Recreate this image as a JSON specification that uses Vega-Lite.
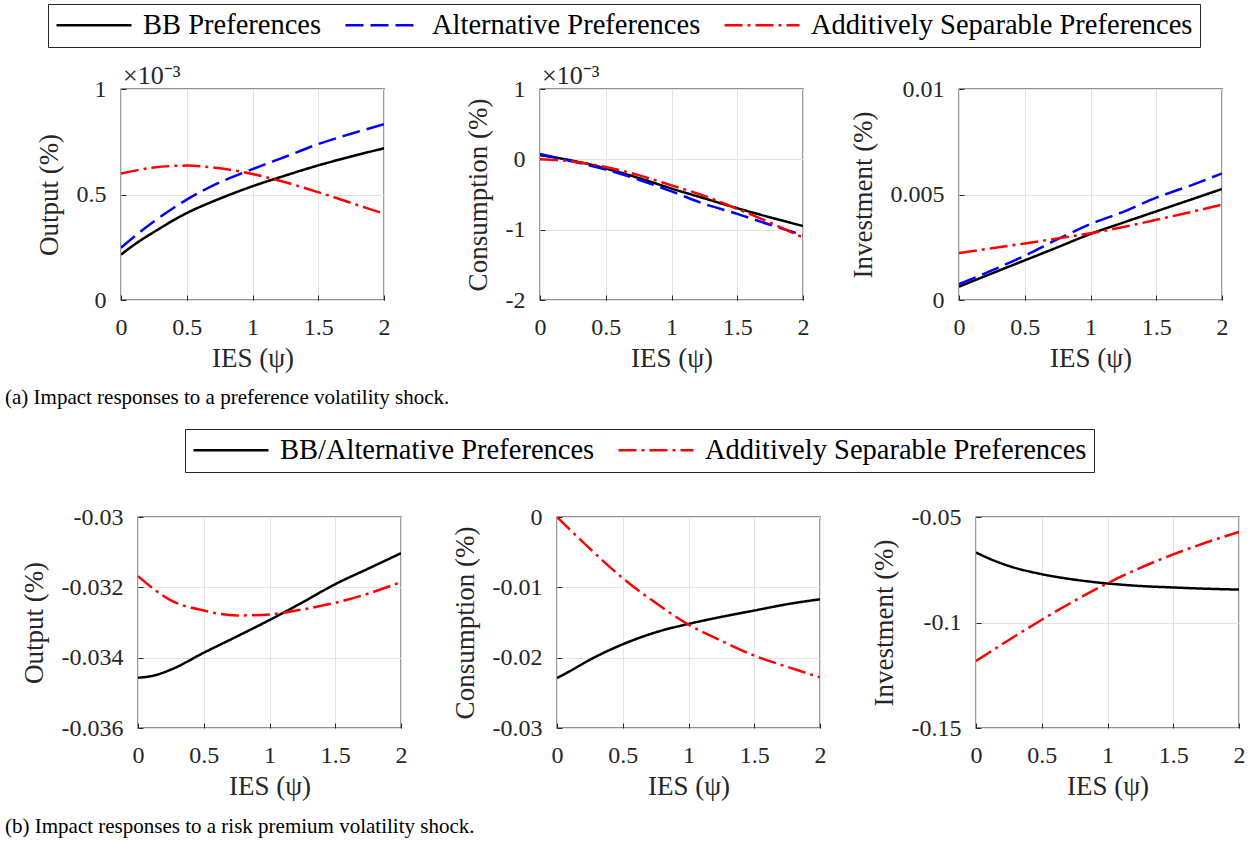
{
  "$schema": "https://vega.github.io/schema/vega-lite/v6.json",
  "padding": {"left": 5, "top": 3, "right": 5, "bottom": 5},
  "background": "white",
  "config": {
    "font": "Liberation Serif",
    "view": {"stroke": "#262626", "strokeWidth": 1.3},
    "legend": {"labelFont": "Liberation Serif", "titleFont": "Liberation Serif"},
    "axis": {
      "labelFont": "Liberation Serif", "labelFontSize": 24, "labelColor": "#262626",
      "titleFont": "Liberation Serif", "titleFontSize": 27, "titleFontWeight": "normal", "titleColor": "#262626",
      "grid": true, "gridColor": "#e3e3e3", "gridWidth": 1, "domain": false,
      "ticks": true, "tickSize": -5, "tickColor": "#262626", "tickWidth": 1,
      "labelFlush": false, "labelOverlap": false
    },
    "axisX": {"labelPadding": 20, "titlePadding": 6},
    "axisY": {"labelPadding": 20, "titlePadding": 13}
  },
  "datasets": {
    "p1": [
      {"ies": 0, "series": "BB Preferences", "value": 0.000215},
      {"ies": 0.1, "series": "BB Preferences", "value": 0.000262},
      {"ies": 0.25, "series": "BB Preferences", "value": 0.000322},
      {"ies": 0.5, "series": "BB Preferences", "value": 0.000412},
      {"ies": 0.75, "series": "BB Preferences", "value": 0.00048},
      {"ies": 1, "series": "BB Preferences", "value": 0.000539},
      {"ies": 1.25, "series": "BB Preferences", "value": 0.00059},
      {"ies": 1.5, "series": "BB Preferences", "value": 0.000638},
      {"ies": 1.75, "series": "BB Preferences", "value": 0.00068},
      {"ies": 2, "series": "BB Preferences", "value": 0.000719},
      {"ies": 0, "series": "Alternative Preferences", "value": 0.000248},
      {"ies": 0.1, "series": "Alternative Preferences", "value": 0.0003},
      {"ies": 0.25, "series": "Alternative Preferences", "value": 0.000372},
      {"ies": 0.5, "series": "Alternative Preferences", "value": 0.000476},
      {"ies": 0.75, "series": "Alternative Preferences", "value": 0.000557},
      {"ies": 1, "series": "Alternative Preferences", "value": 0.00062},
      {"ies": 1.25, "series": "Alternative Preferences", "value": 0.000679},
      {"ies": 1.5, "series": "Alternative Preferences", "value": 0.000739},
      {"ies": 1.75, "series": "Alternative Preferences", "value": 0.000788},
      {"ies": 2, "series": "Alternative Preferences", "value": 0.000833},
      {"ies": 0, "series": "Additively Separable Preferences", "value": 0.000599},
      {"ies": 0.25, "series": "Additively Separable Preferences", "value": 0.000628},
      {"ies": 0.5, "series": "Additively Separable Preferences", "value": 0.000637},
      {"ies": 0.75, "series": "Additively Separable Preferences", "value": 0.000624},
      {"ies": 1, "series": "Additively Separable Preferences", "value": 0.000597},
      {"ies": 1.25, "series": "Additively Separable Preferences", "value": 0.000558},
      {"ies": 1.5, "series": "Additively Separable Preferences", "value": 0.000511},
      {"ies": 1.75, "series": "Additively Separable Preferences", "value": 0.00046},
      {"ies": 2, "series": "Additively Separable Preferences", "value": 0.000409}
    ],
    "p2": [
      {"ies": 0, "series": "BB Preferences", "value": 0.00006},
      {"ies": 0.25, "series": "BB Preferences", "value": -0.00002},
      {"ies": 0.5, "series": "BB Preferences", "value": -0.00013},
      {"ies": 0.75, "series": "BB Preferences", "value": -0.000265},
      {"ies": 1, "series": "BB Preferences", "value": -0.000415},
      {"ies": 1.25, "series": "BB Preferences", "value": -0.000555},
      {"ies": 1.5, "series": "BB Preferences", "value": -0.000695},
      {"ies": 1.75, "series": "BB Preferences", "value": -0.000825},
      {"ies": 2, "series": "BB Preferences", "value": -0.000948},
      {"ies": 0, "series": "Alternative Preferences", "value": 0.000075},
      {"ies": 0.25, "series": "Alternative Preferences", "value": -0.00003},
      {"ies": 0.5, "series": "Alternative Preferences", "value": -0.000145},
      {"ies": 0.75, "series": "Alternative Preferences", "value": -0.00029},
      {"ies": 1, "series": "Alternative Preferences", "value": -0.000455},
      {"ies": 1.25, "series": "Alternative Preferences", "value": -0.000635},
      {"ies": 1.5, "series": "Alternative Preferences", "value": -0.000775},
      {"ies": 1.75, "series": "Alternative Preferences", "value": -0.00093},
      {"ies": 2, "series": "Alternative Preferences", "value": -0.001076},
      {"ies": 0, "series": "Additively Separable Preferences", "value": 0},
      {"ies": 0.25, "series": "Additively Separable Preferences", "value": -0.00003},
      {"ies": 0.5, "series": "Additively Separable Preferences", "value": -0.00011},
      {"ies": 0.75, "series": "Additively Separable Preferences", "value": -0.000225},
      {"ies": 1, "series": "Additively Separable Preferences", "value": -0.00037},
      {"ies": 1.25, "series": "Additively Separable Preferences", "value": -0.00052},
      {"ies": 1.5, "series": "Additively Separable Preferences", "value": -0.000705},
      {"ies": 1.75, "series": "Additively Separable Preferences", "value": -0.0009},
      {"ies": 2, "series": "Additively Separable Preferences", "value": -0.001114}
    ],
    "p3": [
      {"ies": 0, "series": "BB Preferences", "value": 0.00063},
      {"ies": 0.25, "series": "BB Preferences", "value": 0.00126},
      {"ies": 0.5, "series": "BB Preferences", "value": 0.00188},
      {"ies": 0.75, "series": "BB Preferences", "value": 0.0025},
      {"ies": 1, "series": "BB Preferences", "value": 0.00313},
      {"ies": 1.25, "series": "BB Preferences", "value": 0.00367},
      {"ies": 1.5, "series": "BB Preferences", "value": 0.0042},
      {"ies": 1.75, "series": "BB Preferences", "value": 0.00473},
      {"ies": 2, "series": "BB Preferences", "value": 0.00526},
      {"ies": 0, "series": "Alternative Preferences", "value": 0.00075},
      {"ies": 0.25, "series": "Alternative Preferences", "value": 0.0014},
      {"ies": 0.5, "series": "Alternative Preferences", "value": 0.0021},
      {"ies": 0.75, "series": "Alternative Preferences", "value": 0.00288},
      {"ies": 1, "series": "Alternative Preferences", "value": 0.0036},
      {"ies": 1.25, "series": "Alternative Preferences", "value": 0.00418},
      {"ies": 1.5, "series": "Alternative Preferences", "value": 0.00485},
      {"ies": 1.75, "series": "Alternative Preferences", "value": 0.0054},
      {"ies": 2, "series": "Alternative Preferences", "value": 0.006},
      {"ies": 0, "series": "Additively Separable Preferences", "value": 0.00223},
      {"ies": 0.25, "series": "Additively Separable Preferences", "value": 0.00245},
      {"ies": 0.5, "series": "Additively Separable Preferences", "value": 0.00268},
      {"ies": 0.75, "series": "Additively Separable Preferences", "value": 0.00292},
      {"ies": 1, "series": "Additively Separable Preferences", "value": 0.00316},
      {"ies": 1.25, "series": "Additively Separable Preferences", "value": 0.00346},
      {"ies": 1.5, "series": "Additively Separable Preferences", "value": 0.0038},
      {"ies": 1.75, "series": "Additively Separable Preferences", "value": 0.00415},
      {"ies": 2, "series": "Additively Separable Preferences", "value": 0.00452}
    ],
    "p4": [
      {"ies": 0, "series": "BB/Alternative Preferences", "value": -0.03457},
      {"ies": 0.13, "series": "BB/Alternative Preferences", "value": -0.0345},
      {"ies": 0.25, "series": "BB/Alternative Preferences", "value": -0.03434},
      {"ies": 0.5, "series": "BB/Alternative Preferences", "value": -0.03386},
      {"ies": 0.75, "series": "BB/Alternative Preferences", "value": -0.0334},
      {"ies": 1, "series": "BB/Alternative Preferences", "value": -0.03293},
      {"ies": 1.25, "series": "BB/Alternative Preferences", "value": -0.03243},
      {"ies": 1.5, "series": "BB/Alternative Preferences", "value": -0.03191},
      {"ies": 1.75, "series": "BB/Alternative Preferences", "value": -0.03147},
      {"ies": 2, "series": "BB/Alternative Preferences", "value": -0.03103},
      {"ies": 0, "series": "Additively Separable Preferences", "value": -0.03168},
      {"ies": 0.25, "series": "Additively Separable Preferences", "value": -0.03237},
      {"ies": 0.5, "series": "Additively Separable Preferences", "value": -0.03266},
      {"ies": 0.75, "series": "Additively Separable Preferences", "value": -0.0328},
      {"ies": 1, "series": "Additively Separable Preferences", "value": -0.03277},
      {"ies": 1.25, "series": "Additively Separable Preferences", "value": -0.03263},
      {"ies": 1.5, "series": "Additively Separable Preferences", "value": -0.03244},
      {"ies": 1.75, "series": "Additively Separable Preferences", "value": -0.03218},
      {"ies": 2, "series": "Additively Separable Preferences", "value": -0.03185}
    ],
    "p5": [
      {"ies": 0, "series": "BB/Alternative Preferences", "value": -0.0229},
      {"ies": 0.1, "series": "BB/Alternative Preferences", "value": -0.0219},
      {"ies": 0.25, "series": "BB/Alternative Preferences", "value": -0.0203},
      {"ies": 0.5, "series": "BB/Alternative Preferences", "value": -0.0181},
      {"ies": 0.75, "series": "BB/Alternative Preferences", "value": -0.0164},
      {"ies": 1, "series": "BB/Alternative Preferences", "value": -0.0152},
      {"ies": 1.25, "series": "BB/Alternative Preferences", "value": -0.0142},
      {"ies": 1.5, "series": "BB/Alternative Preferences", "value": -0.0133},
      {"ies": 1.75, "series": "BB/Alternative Preferences", "value": -0.0124},
      {"ies": 2, "series": "BB/Alternative Preferences", "value": -0.0117},
      {"ies": 0, "series": "Additively Separable Preferences", "value": 0},
      {"ies": 0.25, "series": "Additively Separable Preferences", "value": -0.0045},
      {"ies": 0.5, "series": "Additively Separable Preferences", "value": -0.0087},
      {"ies": 0.75, "series": "Additively Separable Preferences", "value": -0.0122},
      {"ies": 1, "series": "Additively Separable Preferences", "value": -0.0153},
      {"ies": 1.25, "series": "Additively Separable Preferences", "value": -0.0176},
      {"ies": 1.5, "series": "Additively Separable Preferences", "value": -0.0197},
      {"ies": 1.75, "series": "Additively Separable Preferences", "value": -0.0213},
      {"ies": 2, "series": "Additively Separable Preferences", "value": -0.0228}
    ],
    "p6": [
      {"ies": 0, "series": "BB/Alternative Preferences", "value": -0.0668},
      {"ies": 0.1, "series": "BB/Alternative Preferences", "value": -0.0697},
      {"ies": 0.25, "series": "BB/Alternative Preferences", "value": -0.0732},
      {"ies": 0.5, "series": "BB/Alternative Preferences", "value": -0.0771},
      {"ies": 0.75, "series": "BB/Alternative Preferences", "value": -0.0797},
      {"ies": 1, "series": "BB/Alternative Preferences", "value": -0.0815},
      {"ies": 1.25, "series": "BB/Alternative Preferences", "value": -0.0827},
      {"ies": 1.5, "series": "BB/Alternative Preferences", "value": -0.0834},
      {"ies": 1.75, "series": "BB/Alternative Preferences", "value": -0.084},
      {"ies": 2, "series": "BB/Alternative Preferences", "value": -0.0844},
      {"ies": 0, "series": "Additively Separable Preferences", "value": -0.1183},
      {"ies": 0.25, "series": "Additively Separable Preferences", "value": -0.1083},
      {"ies": 0.5, "series": "Additively Separable Preferences", "value": -0.0987},
      {"ies": 0.75, "series": "Additively Separable Preferences", "value": -0.0897},
      {"ies": 1, "series": "Additively Separable Preferences", "value": -0.0814},
      {"ies": 1.25, "series": "Additively Separable Preferences", "value": -0.0741},
      {"ies": 1.5, "series": "Additively Separable Preferences", "value": -0.0677},
      {"ies": 1.75, "series": "Additively Separable Preferences", "value": -0.0621},
      {"ies": 2, "series": "Additively Separable Preferences", "value": -0.0571}
    ]
  },
  "vconcat": [
    {
      "title": {"text": "(a) Impact responses to a preference volatility shock.", "orient": "bottom", "anchor": "start", "frame": "group", "dx": -116, "offset": 15, "font": "Liberation Serif", "fontSize": 21, "fontWeight": "normal", "color": "#000000"},
      "hconcat": [
        {
          "width": 263, "height": 211,
          "data": {"name": "p1"},
          "title": {"text": "×10⁻³", "anchor": "start", "frame": "group", "orient": "top", "offset": -12, "dx": 2, "font": "Liberation Serif", "fontSize": 26, "fontWeight": "normal", "color": "#262626"},
          "mark": {"type": "line", "strokeWidth": 2.5, "interpolate": "monotone", "clip": true},
          "encoding": {
            "x": {"field": "ies", "type": "quantitative", "scale": {"domain": [0, 2], "nice": false}, "axis": {"values": [0, 0.5, 1, 1.5, 2], "title": "IES (ψ)", "labelExpr": "toString(datum.value)"}},
            "y": {"field": "value", "type": "quantitative", "scale": {"domain": [0, 0.001], "nice": false, "zero": false}, "axis": {"values": [0, 0.0005, 0.001], "title": "Output (%)", "labelExpr": "toString(datum.value * 1000)"}},
            "color": {"field": "series", "type": "nominal", "scale": {"domain": ["BB Preferences", "Alternative Preferences", "Additively Separable Preferences"], "range": ["#000000", "#0000ff", "#ff0000"]},
              "legend": {"orient": "none", "legendX": -73, "legendY": -85, "direction": "horizontal", "columns": 3, "title": null, "symbolType": "stroke", "symbolSize": 5625, "symbolStrokeWidth": 2.5, "clipHeight": 28, "labelFont": "Liberation Serif", "labelFontSize": 28.5, "labelColor": "#000000", "labelLimit": 600, "labelOffset": 10, "columnPadding": 22, "padding": 7, "strokeColor": "#262626", "fillColor": "#ffffff"}},
            "strokeDash": {"field": "series", "type": "nominal", "scale": {"domain": ["BB Preferences", "Alternative Preferences", "Additively Separable Preferences"], "range": [[1, 0], [18, 7], [18, 5, 3, 5]]},
              "legend": {"orient": "none", "legendX": -73, "legendY": -85, "direction": "horizontal", "columns": 3, "title": null, "symbolType": "stroke", "symbolSize": 5625, "symbolStrokeWidth": 2.5, "clipHeight": 28, "labelFont": "Liberation Serif", "labelFontSize": 28.5, "labelColor": "#000000", "labelLimit": 600, "labelOffset": 10, "columnPadding": 22, "padding": 7, "strokeColor": "#262626", "fillColor": "#ffffff"}}
          }
        },
        {
          "width": 263, "height": 211,
          "data": {"name": "p2"},
          "title": {"text": "×10⁻³", "anchor": "start", "frame": "group", "orient": "top", "offset": -12, "dx": 2, "font": "Liberation Serif", "fontSize": 26, "fontWeight": "normal", "color": "#262626"},
          "mark": {"type": "line", "strokeWidth": 2.5, "interpolate": "monotone", "clip": true},
          "encoding": {
            "x": {"field": "ies", "type": "quantitative", "scale": {"domain": [0, 2], "nice": false}, "axis": {"values": [0, 0.5, 1, 1.5, 2], "title": "IES (ψ)", "labelExpr": "toString(datum.value)"}},
            "y": {"field": "value", "type": "quantitative", "scale": {"domain": [-0.002, 0.001], "nice": false, "zero": false}, "axis": {"values": [-0.002, -0.001, 0, 0.001], "title": "Consumption (%)", "labelExpr": "toString(datum.value * 1000)"}},
            "color": {"field": "series", "type": "nominal", "scale": {"domain": ["BB Preferences", "Alternative Preferences", "Additively Separable Preferences"], "range": ["#000000", "#0000ff", "#ff0000"]},
              "legend": {"orient": "none", "legendX": -73, "legendY": -85, "direction": "horizontal", "columns": 3, "title": null, "symbolType": "stroke", "symbolSize": 5625, "symbolStrokeWidth": 2.5, "clipHeight": 28, "labelFont": "Liberation Serif", "labelFontSize": 28.5, "labelColor": "#000000", "labelLimit": 600, "labelOffset": 10, "columnPadding": 22, "padding": 7, "strokeColor": "#262626", "fillColor": "#ffffff"}},
            "strokeDash": {"field": "series", "type": "nominal", "scale": {"domain": ["BB Preferences", "Alternative Preferences", "Additively Separable Preferences"], "range": [[1, 0], [18, 7], [18, 5, 3, 5]]},
              "legend": {"orient": "none", "legendX": -73, "legendY": -85, "direction": "horizontal", "columns": 3, "title": null, "symbolType": "stroke", "symbolSize": 5625, "symbolStrokeWidth": 2.5, "clipHeight": 28, "labelFont": "Liberation Serif", "labelFontSize": 28.5, "labelColor": "#000000", "labelLimit": 600, "labelOffset": 10, "columnPadding": 22, "padding": 7, "strokeColor": "#262626", "fillColor": "#ffffff"}}
          }
        },
        {
          "width": 263, "height": 211,
          "data": {"name": "p3"},
          "mark": {"type": "line", "strokeWidth": 2.5, "interpolate": "monotone", "clip": true},
          "encoding": {
            "x": {"field": "ies", "type": "quantitative", "scale": {"domain": [0, 2], "nice": false}, "axis": {"values": [0, 0.5, 1, 1.5, 2], "title": "IES (ψ)", "labelExpr": "toString(datum.value)"}},
            "y": {"field": "value", "type": "quantitative", "scale": {"domain": [0, 0.01], "nice": false, "zero": false}, "axis": {"values": [0, 0.005, 0.01], "title": "Investment (%)", "labelExpr": "toString(datum.value)"}},
            "color": {"field": "series", "type": "nominal", "scale": {"domain": ["BB Preferences", "Alternative Preferences", "Additively Separable Preferences"], "range": ["#000000", "#0000ff", "#ff0000"]},
              "legend": {"orient": "none", "legendX": -73, "legendY": -85, "direction": "horizontal", "columns": 3, "title": null, "symbolType": "stroke", "symbolSize": 5625, "symbolStrokeWidth": 2.5, "clipHeight": 28, "labelFont": "Liberation Serif", "labelFontSize": 28.5, "labelColor": "#000000", "labelLimit": 600, "labelOffset": 10, "columnPadding": 22, "padding": 7, "strokeColor": "#262626", "fillColor": "#ffffff"}},
            "strokeDash": {"field": "series", "type": "nominal", "scale": {"domain": ["BB Preferences", "Alternative Preferences", "Additively Separable Preferences"], "range": [[1, 0], [18, 7], [18, 5, 3, 5]]},
              "legend": {"orient": "none", "legendX": -73, "legendY": -85, "direction": "horizontal", "columns": 3, "title": null, "symbolType": "stroke", "symbolSize": 5625, "symbolStrokeWidth": 2.5, "clipHeight": 28, "labelFont": "Liberation Serif", "labelFontSize": 28.5, "labelColor": "#000000", "labelLimit": 600, "labelOffset": 10, "columnPadding": 22, "padding": 7, "strokeColor": "#262626", "fillColor": "#ffffff"}}
          }
        }
      ],
      "spacing": 156,
      "bounds": "flush"
    },
    {
      "title": {"text": "(b) Impact responses to a risk premium volatility shock.", "orient": "bottom", "anchor": "start", "frame": "group", "dx": -116, "offset": 16, "font": "Liberation Serif", "fontSize": 21, "fontWeight": "normal", "color": "#000000"},
      "hconcat": [
        {"width": 17, "height": 211, "data": {"values": []}, "mark": "point", "view": {"stroke": null}},
        {
          "hconcat": [
            {
              "width": 263, "height": 211,
              "data": {"name": "p4"},
              "mark": {"type": "line", "strokeWidth": 2.5, "interpolate": "monotone", "clip": true},
              "encoding": {
                "x": {"field": "ies", "type": "quantitative", "scale": {"domain": [0, 2], "nice": false}, "axis": {"values": [0, 0.5, 1, 1.5, 2], "title": "IES (ψ)", "labelExpr": "toString(datum.value)"}},
                "y": {"field": "value", "type": "quantitative", "scale": {"domain": [-0.036, -0.03], "nice": false, "zero": false}, "axis": {"values": [-0.036, -0.034, -0.032, -0.03], "title": "Output (%)", "labelExpr": "toString(datum.value)"}},
                "color": {"field": "series", "type": "nominal", "scale": {"domain": ["BB/Alternative Preferences", "Additively Separable Preferences"], "range": ["#000000", "#ff0000"]},
                  "legend": {"orient": "none", "legendX": 47, "legendY": -88, "direction": "horizontal", "columns": 2, "title": null, "symbolType": "stroke", "symbolSize": 5625, "symbolStrokeWidth": 2.5, "clipHeight": 28, "labelFont": "Liberation Serif", "labelFontSize": 28.5, "labelColor": "#000000", "labelLimit": 600, "labelOffset": 10, "columnPadding": 22, "padding": 7, "strokeColor": "#262626", "fillColor": "#ffffff"}},
                "strokeDash": {"field": "series", "type": "nominal", "scale": {"domain": ["BB/Alternative Preferences", "Additively Separable Preferences"], "range": [[1, 0], [18, 5, 3, 5]]},
                  "legend": {"orient": "none", "legendX": 47, "legendY": -88, "direction": "horizontal", "columns": 2, "title": null, "symbolType": "stroke", "symbolSize": 5625, "symbolStrokeWidth": 2.5, "clipHeight": 28, "labelFont": "Liberation Serif", "labelFontSize": 28.5, "labelColor": "#000000", "labelLimit": 600, "labelOffset": 10, "columnPadding": 22, "padding": 7, "strokeColor": "#262626", "fillColor": "#ffffff"}}
              }
            },
            {
              "width": 263, "height": 211,
              "data": {"name": "p5"},
              "mark": {"type": "line", "strokeWidth": 2.5, "interpolate": "monotone", "clip": true},
              "encoding": {
                "x": {"field": "ies", "type": "quantitative", "scale": {"domain": [0, 2], "nice": false}, "axis": {"values": [0, 0.5, 1, 1.5, 2], "title": "IES (ψ)", "labelExpr": "toString(datum.value)"}},
                "y": {"field": "value", "type": "quantitative", "scale": {"domain": [-0.03, 0], "nice": false, "zero": false}, "axis": {"values": [-0.03, -0.02, -0.01, 0], "title": "Consumption (%)", "labelExpr": "toString(datum.value)"}},
                "color": {"field": "series", "type": "nominal", "scale": {"domain": ["BB/Alternative Preferences", "Additively Separable Preferences"], "range": ["#000000", "#ff0000"]},
                  "legend": {"orient": "none", "legendX": 47, "legendY": -88, "direction": "horizontal", "columns": 2, "title": null, "symbolType": "stroke", "symbolSize": 5625, "symbolStrokeWidth": 2.5, "clipHeight": 28, "labelFont": "Liberation Serif", "labelFontSize": 28.5, "labelColor": "#000000", "labelLimit": 600, "labelOffset": 10, "columnPadding": 22, "padding": 7, "strokeColor": "#262626", "fillColor": "#ffffff"}},
                "strokeDash": {"field": "series", "type": "nominal", "scale": {"domain": ["BB/Alternative Preferences", "Additively Separable Preferences"], "range": [[1, 0], [18, 5, 3, 5]]},
                  "legend": {"orient": "none", "legendX": 47, "legendY": -88, "direction": "horizontal", "columns": 2, "title": null, "symbolType": "stroke", "symbolSize": 5625, "symbolStrokeWidth": 2.5, "clipHeight": 28, "labelFont": "Liberation Serif", "labelFontSize": 28.5, "labelColor": "#000000", "labelLimit": 600, "labelOffset": 10, "columnPadding": 22, "padding": 7, "strokeColor": "#262626", "fillColor": "#ffffff"}}
              }
            },
            {
              "width": 263, "height": 211,
              "data": {"name": "p6"},
              "mark": {"type": "line", "strokeWidth": 2.5, "interpolate": "monotone", "clip": true},
              "encoding": {
                "x": {"field": "ies", "type": "quantitative", "scale": {"domain": [0, 2], "nice": false}, "axis": {"values": [0, 0.5, 1, 1.5, 2], "title": "IES (ψ)", "labelExpr": "toString(datum.value)"}},
                "y": {"field": "value", "type": "quantitative", "scale": {"domain": [-0.15, -0.05], "nice": false, "zero": false}, "axis": {"values": [-0.15, -0.1, -0.05], "title": "Investment (%)", "labelExpr": "toString(datum.value)"}},
                "color": {"field": "series", "type": "nominal", "scale": {"domain": ["BB/Alternative Preferences", "Additively Separable Preferences"], "range": ["#000000", "#ff0000"]},
                  "legend": {"orient": "none", "legendX": 47, "legendY": -88, "direction": "horizontal", "columns": 2, "title": null, "symbolType": "stroke", "symbolSize": 5625, "symbolStrokeWidth": 2.5, "clipHeight": 28, "labelFont": "Liberation Serif", "labelFontSize": 28.5, "labelColor": "#000000", "labelLimit": 600, "labelOffset": 10, "columnPadding": 22, "padding": 7, "strokeColor": "#262626", "fillColor": "#ffffff"}},
                "strokeDash": {"field": "series", "type": "nominal", "scale": {"domain": ["BB/Alternative Preferences", "Additively Separable Preferences"], "range": [[1, 0], [18, 5, 3, 5]]},
                  "legend": {"orient": "none", "legendX": 47, "legendY": -88, "direction": "horizontal", "columns": 2, "title": null, "symbolType": "stroke", "symbolSize": 5625, "symbolStrokeWidth": 2.5, "clipHeight": 28, "labelFont": "Liberation Serif", "labelFontSize": 28.5, "labelColor": "#000000", "labelLimit": 600, "labelOffset": 10, "columnPadding": 22, "padding": 7, "strokeColor": "#262626", "fillColor": "#ffffff"}}
              }
            }
          ],
          "spacing": 156,
          "bounds": "flush"
        }
      ],
      "spacing": 0,
      "bounds": "flush",
      "resolve": {"scale": {"color": "independent", "strokeDash": "independent"}}
    }
  ],
  "spacing": 428,
  "bounds": "flush",
  "resolve": {"scale": {"color": "independent", "strokeDash": "independent"}}
}
